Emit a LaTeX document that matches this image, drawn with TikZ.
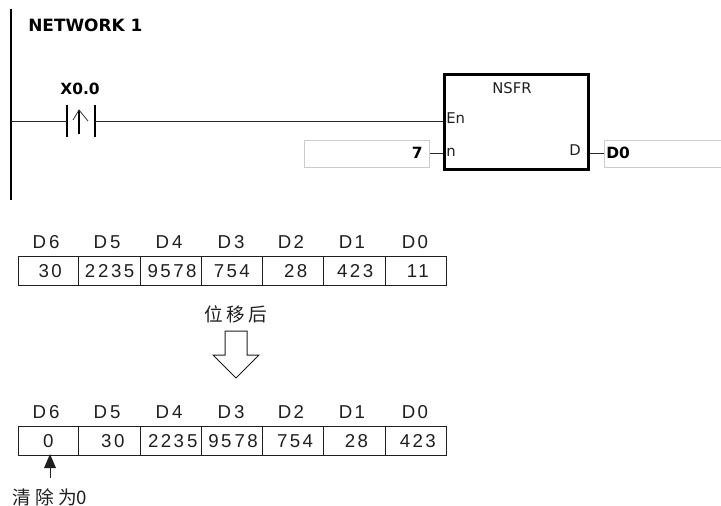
\documentclass[tikz,border=0pt]{standalone}
\usepackage{fontspec}
\setmainfont{Liberation Sans}
\newfontfamily\cjk{Noto Sans CJK SC}
\newfontfamily\uifont{DejaVu Sans}
\newfontfamily\numfont[LetterSpace=13]{Liberation Sans}
\definecolor{ink}{gray}{0.12}
\tikzset{
  cellbox/.style={draw=ink,line width=0.75pt,minimum height=21.6pt,inner sep=0pt,anchor=north west,font=\fontsize{14pt}{16pt}\numfont,text=ink,text height=9.8pt,text depth=0pt},
  head/.style={font=\fontsize{14pt}{16pt}\numfont,text=ink,inner sep=0pt,text height=9.8pt,text depth=0pt},
  ui/.style={font=\fontsize{11.1pt}{13pt}\uifont,text=ink,inner sep=0pt},
  uib/.style={font=\fontsize{11.6pt}{13pt}\uifont\bfseries,text=black,inner sep=0pt},
  wire/.style={draw=black!85,line width=0.75pt},
  thick bar/.style={draw=black,line width=2pt},
  valbox/.style={draw=black!20,line width=1pt,fill=white,inner sep=0pt,anchor=north west,minimum height=20.25pt},
  cjklabel/.style={font=\fontsize{14pt}{16pt}\cjk,text=ink,inner sep=0pt}
}
\begin{document}
\begin{tikzpicture}[x=0.75pt,y=-0.75pt]
\useasboundingbox (0,0) rectangle (721,506);
% ladder
\coordinate (railt) at (11,9);
\coordinate (railb) at (11,200);
\draw[thick bar] (railt) -- (railb);
\node[uib,anchor=west,font=\fontsize{12.7pt}{14pt}\uifont\bfseries] (net) at (28,25) {NETWORK 1};
\node[uib] (x00) at (80,89) {X0.0};
\coordinate (cl1) at (67,105); \coordinate (cl2) at (67,137);
\coordinate (cr1) at (95,105); \coordinate (cr2) at (95,137);
\draw[line width=2.2pt,black] (cl1) -- (cl2);
\draw[line width=2.2pt,black] (cr1) -- (cr2);
\coordinate (wl) at (11,122);
\coordinate (wcl) at (67,122);
\coordinate (wcr) at (95,122);
\node[draw=black,line width=2.2pt,minimum width=108pt,minimum height=71.25pt,inner sep=0pt,anchor=north west] (fb) at (443,73) {};
\coordinate (wen) at (443,122);
\draw[wire] (wl) -- (wcl);
\draw[wire] (wcr) -- (wen);
\coordinate (aa) at (79,134); \coordinate (ab) at (79,110);
\coordinate (al) at (73,120); \coordinate (ar) at (88,121);
\draw[line width=0.8pt,black] (aa) -- (ab);
\draw[line width=0.6pt,black!80] (al) -- (ab) -- (ar);
\node[ui] (nsfr) at (512,88) {NSFR};
\node[ui,anchor=west] (en) at (446,118) {En};
\node[ui,anchor=west] (pn) at (446,152) {n};
\node[ui,anchor=east] (pd) at (581,150) {D};
\node[valbox,minimum width=94pt] (v7) at (303.5,140) {};
\node[valbox,minimum width=89pt] (vd) at (603.5,140) {};
\node[uib,anchor=east] (t7) at (423,153) {7};
\node[uib,anchor=west] (td) at (606,153) {D0};
\draw[wire] (v7.east |- 0,154) -- (fb.west |- 0,154);
\draw[wire] (fb.east |- 0,154) -- (vd.west |- 0,154);
% table 1
\foreach \nm/\xa/\xb/\t/\o in {a6/17.5/78/30/3,a5/78/140/{2\,235}/0,a4/140/200.5/9578/2,a3/200.5/262/754/0,a2/262/323/28/4,a1/323/385/423/1,a0/385/445.5/11/3}{
  \node[cellbox,minimum width=(\xb-\xa)*0.75pt] (\nm) at (\xa,256) {\hspace*{\o pt}\t};
}
\foreach \nm/\x/\t in {la6/46/D\,6,la5/107/D\,5,la4/169/D\,4,la3/231/D\,3,la2/291/D2,la1/352/D1,la0/415/D0}{
  \node[head] (\nm) at (\x,242) {\t};
}
% table 2
\foreach \nm/\xa/\xb/\t/\o in {b6/17.5/78/0/0,b5/78/140/30/5,b4/140/200.5/{223\,5}/3,b3/200.5/262/{95\,78}/2,b2/262/323/754/3,b1/323/385/28/3,b0/385/445.5/423/3}{
  \node[cellbox,minimum width=(\xb-\xa)*0.75pt] (\nm) at (\xa,426) {\hspace*{\o pt}\t};
}
\foreach \nm/\x/\t in {lb6/46/D\,6,lb5/107/D\,5,lb4/169/D\,4,lb3/231/D\,3,lb2/291/D2,lb1/352/D1,lb0/415/D0}{
  \node[head] (\nm) at (\x,412) {\t};
}
% big arrow
\node[cjklabel] (shift) at (236,314) {位\,移\,后};
\draw[draw=ink,line width=0.75pt,fill=white] (225,331) -- (247,331) -- (247,355) -- (259,355) -- (236,378) -- (213,355) -- (225,355) -- cycle;
% small arrow
\node[cjklabel,anchor=west] (clr) at (12,497) {清\hspace{3.2pt}除\hspace{3.2pt}为0};
\coordinate (sat) at (50,478);
\coordinate (tip) at (50,454);
\draw[draw=ink,line width=0.6pt] (sat) -- (50,468);
\fill[ink] (tip) -- (56,468) -- (44,468) -- cycle;
\end{tikzpicture}
\end{document}
